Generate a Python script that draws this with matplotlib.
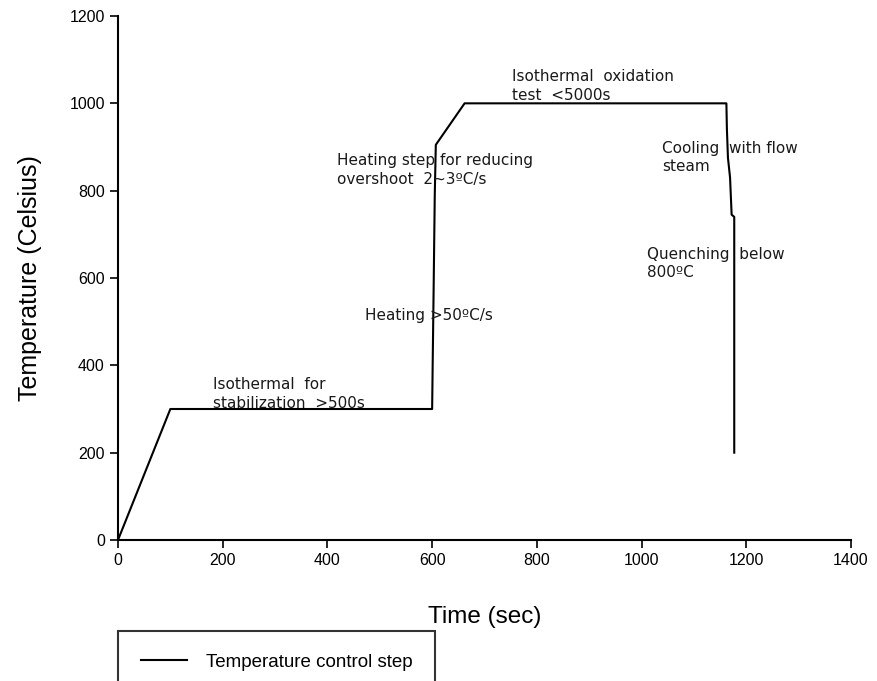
import matplotlib
matplotlib.use("Agg")
import matplotlib.pyplot as plt

plt.rcParams['font.family'] = ['Liberation Sans', 'DejaVu Sans']

# temperature control program (time in s, temperature in Celsius)
time_s = [0, 100, 600, 601, 603, 605, 607, 662, 1162, 1163, 1165, 1169, 1172, 1177, 1177]
temp_c = [0, 300, 300, 400, 590, 790, 905, 1000, 1000, 940, 875, 830, 745, 740, 200]

notes = [
    (181, 335, "Isothermal  for\nstabilization  >500s"),
    (472, 515, "Heating >50ºC/s"),
    (418, 848, "Heating step for reducing\novershoot  2~3ºC/s"),
    (752, 1040, "Isothermal  oxidation\ntest  <5000s"),
    (1039, 876, "Cooling  with flow\nsteam"),
    (1010, 633, "Quenching  below\n800ºC"),
]

fig = plt.figure(figsize=(8.77, 6.81), dpi=100)
ax = fig.add_axes([118/877, 1 - 540/681, (851-118)/877, (540-16)/681])

line, = ax.plot(time_s, temp_c, color='black', lw=1.5,
                label='Temperature control step')

for x, y, s in notes:
    ax.text(x, y, s, fontsize=11, family=['DejaVu Sans'], color='#1a1a1a',
            va='center', ha='left', linespacing=1.3)

ax.set_xlim(0, 1400)
ax.set_ylim(0, 1200)
ax.set_xticks(range(0, 1401, 200))
ax.set_yticks(range(0, 1201, 200))
ax.tick_params(labelsize=11.5, width=1.2, length=6, direction='out')
ax.spines['top'].set_visible(False)
ax.spines['right'].set_visible(False)
ax.spines['left'].set_linewidth(1.5)
ax.spines['bottom'].set_linewidth(1.5)

ax.set_xlabel('Time (sec)', fontsize=17.5, labelpad=27)
ax.set_ylabel('Temperature (Celsius)', fontsize=18, labelpad=20)

leg = fig.legend(handles=[line], loc='upper left',
                 bbox_to_anchor=(118/877, 1 - 631/681), borderaxespad=0,
                 fontsize=13.5, fancybox=False, edgecolor='black',
                 borderpad=1.2, handlelength=2.5, handletextpad=1.0)
leg.get_frame().set_linewidth(1.5)

fig.savefig('out.png', dpi=100)
